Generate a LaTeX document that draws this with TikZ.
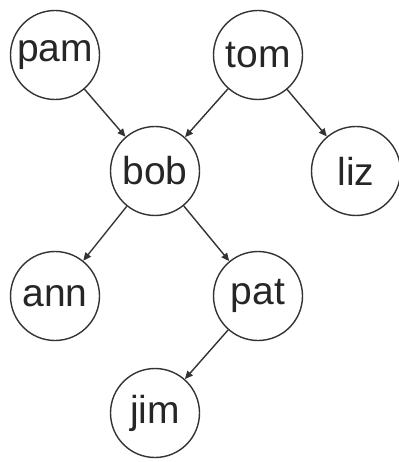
\documentclass[tikz,border=0pt]{standalone}
\usepackage{fontspec}
\setmainfont{Liberation Sans}
\usetikzlibrary{arrows.meta}
\begin{document}
\begin{tikzpicture}[x=1pt,y=-1pt,
  person/.style={draw=black!80,circle,line width=1.4pt,minimum size=89pt,inner sep=0pt,
    font=\fontsize{39}{42}\selectfont,text=black!85},
  parentof/.style={draw=black!80,line width=1.4pt,-{Triangle[length=8pt,width=7pt]}}]
  \useasboundingbox (0,0) rectangle (398,462);
  % family tree nodes
  \node[person] (pam) at (55,55) {pam};
  \node[person] (tom) at (258,55) {tom};
  \node[person] (bob) at (155,171) {bob};
  \node[person] (liz) at (356,171) {liz};
  \node[person] (ann) at (55,296) {ann};
  \node[person] (pat) at (258,296) {pat};
  \node[person] (jim) at (155,413) {jim};
  % parent relations
  \draw[parentof] (pam) -- (bob);
  \draw[parentof] (tom) -- (bob);
  \draw[parentof] (tom) -- (liz);
  \draw[parentof] (bob) -- (ann);
  \draw[parentof] (bob) -- (pat);
  \draw[parentof] (pat) -- (jim);
\end{tikzpicture}
\end{document}
